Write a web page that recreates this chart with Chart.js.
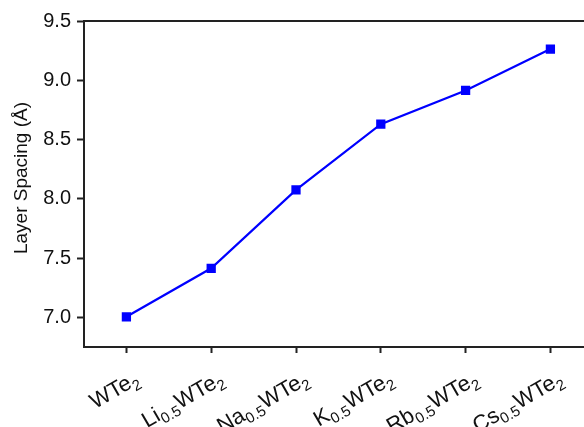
<!DOCTYPE html>
<html>
<head>
<meta charset="utf-8">
<script src="https://cdn.jsdelivr.net/npm/chart.js@4"></script>
<style>
  html, body { margin: 0; padding: 0; background: #fff; overflow: hidden; }
  #wrap { width: 600px; height: 427px; }
</style>
</head>
<body>
<div id="wrap"><canvas id="chart"></canvas></div>
<script>
// label parts: [main, subscript, main, subscript]
const labels = [
  ['WTe', '2'],
  ['Li', '0.5', 'WTe', '2'],
  ['Na', '0.5', 'WTe', '2'],
  ['K', '0.5', 'WTe', '2'],
  ['Rb', '0.5', 'WTe', '2'],
  ['Cs', '0.5', 'WTe', '2']
]
const spacing = [7.005, 7.414, 8.075, 8.63, 8.914, 9.263]
const yTicks = [7.0, 7.5, 8.0, 8.5, 9.0, 9.5]
const yTitle = 'Layer Spacing (Å)'

const FONT = '"Liberation Sans", Arial, sans-serif'

// rotated x labels with subscripts, and the y title
const textPlugin = {
  id: 'textPlugin',
  afterDraw (chart) {
    const ctx = chart.ctx
    const xs = chart.scales.x
    const a = chart.chartArea
    labels.forEach((parts, i) => {
      const x = xs.getPixelForValue(i)
      ctx.save()
      ctx.translate(x + 14, a.bottom + 36)
      ctx.rotate(-30 * Math.PI / 180)
      ctx.fillStyle = '#111'
      ctx.textBaseline = 'alphabetic'
      ctx.textAlign = 'left'
      let w = 0
      parts.forEach((p, j) => {
        ctx.font = (j % 2 ? '15px ' : '22px ') + FONT
        w += ctx.measureText(p).width
      })
      let cx = -w
      parts.forEach((p, j) => {
        const sub = j % 2 === 1
        ctx.font = (sub ? '15px ' : '22px ') + FONT
        ctx.fillText(p, cx, sub ? 5 : 0)
        cx += ctx.measureText(p).width
      })
      ctx.restore()
    })

    ctx.save()
    ctx.translate(22, (a.top + a.bottom) / 2 - 6)
    ctx.rotate(-Math.PI / 2)
    ctx.fillStyle = '#111'
    ctx.font = '19px ' + FONT
    ctx.textAlign = 'center'
    ctx.textBaseline = 'middle'
    ctx.fillText(yTitle, 0, 0)
    ctx.restore()

    // top frame line
    ctx.save()
    ctx.strokeStyle = '#222'
    ctx.lineWidth = 2
    ctx.beginPath()
    ctx.moveTo(a.left - 1, a.top)
    ctx.lineTo(a.right, a.top)
    ctx.stroke()
    ctx.restore()
  }
}

window.onload = () => {
  render()
}

function render () {
  const ctx = document.getElementById('chart').getContext('2d')
  new Chart(ctx, {
    type: 'line',
    data: {
      labels: labels.map(p => p.join('')),
      datasets: [{
        data: spacing,
        borderColor: '#0000ff',
        backgroundColor: '#0000ff',
        borderWidth: 2.2,
        pointStyle: 'rect',
        pointRadius: 5,
        pointHoverRadius: 5,
        tension: 0
      }]
    },
    options: {
      responsive: true,
      maintainAspectRatio: false,
      animation: false,
      layout: { padding: { top: 21, right: 7, left: 0, bottom: 0 } },
      plugins: {
        legend: { display: false },
        tooltip: { enabled: false }
      },
      scales: {
        x: {
          offset: true,
          grid: { drawOnChartArea: false, drawTicks: true, tickLength: 6, tickColor: '#222', tickWidth: 2, offset: false },
          border: { display: true, color: '#222', width: 2 },
          ticks: { display: false },
          afterFit: s => { s.height = 80 }
        },
        y: {
          min: 6.75,
          max: 9.5,
          afterBuildTicks: s => { s.ticks = yTicks.map(v => ({ value: v })) },
          grid: { drawOnChartArea: false, drawTicks: true, tickLength: 7, tickColor: '#222', tickWidth: 2 },
          border: { display: true, color: '#222', width: 2 },
          ticks: {
            color: '#111',
            padding: 6,
            font: { family: FONT, size: 20 },
            callback: v => v.toFixed(1)
          },
          afterFit: s => { s.width = 84 }
        }
      }
    },
    plugins: [textPlugin]
  })
}
</script>
</body>
</html>
